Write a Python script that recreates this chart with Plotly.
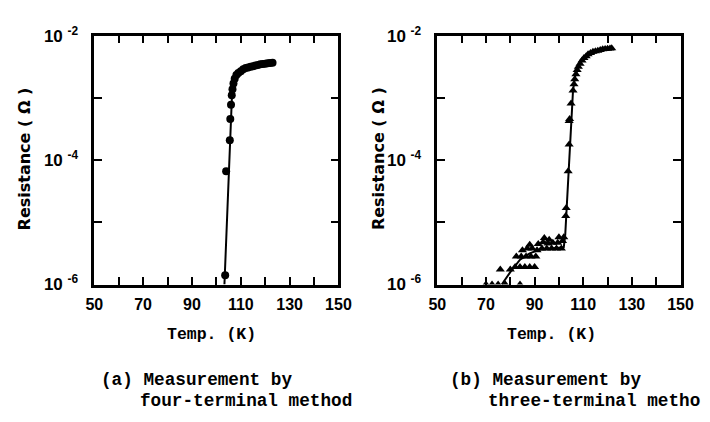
import plotly.graph_objects as go

# ---------------- data ----------------
# (a) four-terminal method: measured points
temp_a = [103.6, 104.0, 105.5, 105.7, 106.0, 106.3, 106.6, 107.0, 107.5, 108.2,
          109.0, 110.0, 111.0, 112.0, 113.0, 114.0, 115.0, 116.0, 117.0, 118.0,
          119.0, 120.0, 121.0, 122.0, 123.0]
res_a = [1.41e-6, 6.61e-5, 2.09e-4, 4.57e-4, 7.76e-4, 1.10e-3, 1.38e-3, 1.70e-3, 2.04e-3, 2.34e-3,
         2.51e-3, 2.69e-3, 2.88e-3, 3.02e-3, 3.09e-3, 3.16e-3, 3.24e-3, 3.31e-3, 3.39e-3, 3.47e-3,
         3.51e-3, 3.55e-3, 3.59e-3, 3.63e-3, 3.67e-3]
# (a) fitted curve
fit_temp_a = [103.3, 104.3, 105.0, 105.6, 106.0, 106.4, 107.2, 108.5, 110.5, 114.0, 118.0, 123.0]
fit_res_a = [1.0e-6, 1.0e-5, 5.0e-5, 2.0e-4, 6.3e-4, 1.12e-3, 1.78e-3, 2.4e-3, 2.75e-3, 3.16e-3, 3.47e-3, 3.67e-3]

# (b) three-terminal method: measured points
temp_b = [70.0, 72.5, 75.0, 78.0, 84.0,
          75.9, 80.0, 82.0, 84.0, 86.0, 88.0, 90.0,
          82.5, 84.5, 86.5, 88.5, 90.5,
          85.0, 87.0, 89.0, 91.0, 93.0, 95.0, 97.0, 99.0, 101.0,
          88.0, 91.5, 93.5, 95.5, 97.5, 99.5, 101.5,
          94.0, 96.0, 100.0, 102.0,
          102.8, 103.0, 103.8, 104.2, 104.2, 104.4, 105.0, 105.8, 106.2,
          106.5, 107.0, 107.5, 108.0, 108.7, 109.5, 110.3, 111.2, 112.0, 113.0,
          114.0, 115.0, 116.0, 117.0, 118.0, 119.0, 120.0, 121.0, 121.7]
res_b = [1.0e-6, 1.0e-6, 1.0e-6, 1.0e-6, 1.0e-6,
         1.74e-6, 1.74e-6, 1.91e-6, 1.91e-6, 1.91e-6, 1.91e-6, 1.91e-6,
         2.82e-6, 2.82e-6, 2.82e-6, 2.82e-6, 2.82e-6,
         3.55e-6, 3.80e-6, 3.80e-6, 3.55e-6, 3.80e-6, 3.80e-6, 3.80e-6, 3.80e-6, 3.80e-6,
         4.37e-6, 4.47e-6, 4.79e-6, 4.57e-6, 4.68e-6, 4.68e-6, 5.01e-6,
         5.62e-6, 5.25e-6, 5.75e-6, 5.75e-6,
         1.26e-5, 1.70e-5, 6.61e-5, 1.78e-4, 4.27e-4, 4.57e-4, 8.13e-4, 1.32e-3, 1.66e-3,
         2.0e-3, 2.40e-3, 2.82e-3, 3.16e-3, 3.55e-3, 3.98e-3, 4.37e-3, 4.68e-3, 5.01e-3, 5.25e-3,
         5.50e-3, 5.62e-3, 5.75e-3, 5.89e-3, 6.03e-3, 6.10e-3, 6.17e-3, 6.24e-3, 6.31e-3]
# (b) fitted curve
fit_temp_b = [76.5, 80.0, 84.0, 88.0, 92.0, 97.0, 102.0, 102.6, 103.3, 104.0, 104.6,
              105.2, 105.8, 106.7, 108.0, 110.0, 113.0, 117.0, 121.7]
fit_res_b = [1.0e-6, 1.58e-6, 2.51e-6, 3.16e-6, 3.63e-6, 3.80e-6, 3.98e-6, 6.31e-6, 2.0e-5, 7.94e-5, 2.51e-4,
             7.08e-4, 1.32e-3, 2.24e-3, 3.16e-3, 4.17e-3, 5.01e-3, 5.75e-3, 6.17e-3]

x_tickvals = [50, 70, 90, 110, 130, 150]
x_ticktext = ["50", "70", "90", "110", "130", "150"]
x_minor_vals = [60, 80, 100, 120, 140]
y_tickvals = [1e-6, 1e-4, 1e-2]
y_ticktext = ["10 <sup>-6</sup>", "10 <sup>-4</sup>", "10 <sup>-2</sup>"]
y_minor_vals = [1e-5, 1e-3]

x_title = "Temp. (K)"
y_title = "Resistance ( Ω )"
caption_a = ["(a) Measurement by", "four-terminal method"]
caption_b = ["(b) Measurement by", "three-terminal metho"]

# ---------------- figure ----------------
W, H = 710, 422
fig = go.Figure()

fig.add_trace(go.Scatter(x=fit_temp_a, y=fit_res_a, mode="lines",
                         line=dict(color="black", width=2), xaxis="x", yaxis="y",
                         showlegend=False))
fig.add_trace(go.Scatter(x=temp_a, y=res_a, mode="markers",
                         marker=dict(symbol="circle", size=8, color="black"),
                         xaxis="x", yaxis="y", showlegend=False))
fig.add_trace(go.Scatter(x=fit_temp_b, y=fit_res_b, mode="lines",
                         line=dict(color="black", width=2), xaxis="x2", yaxis="y2",
                         showlegend=False))
fig.add_trace(go.Scatter(x=temp_b, y=res_b, mode="markers",
                         marker=dict(symbol="triangle-up", size=8, color="black"),
                         xaxis="x2", yaxis="y2", showlegend=False))

def px_x(p):
    return p / W

def px_y(p):
    return 1 - p / H

ydom = [px_y(287.5), px_y(25)]
tickfont_x = dict(family="Liberation Sans", size=16, color="black", weight="bold")
tickfont_y = dict(family="Liberation Sans", size=17, color="black", weight="bold")

minor_style = dict(ticks="inside", ticklen=8, tickwidth=2, tickcolor="black", showgrid=False)
common_x = dict(range=[50, 150], tickmode="array", tickvals=x_tickvals, ticktext=x_ticktext,
                ticks="inside", ticklen=8, tickwidth=2, tickcolor="black",
                minor=dict(tickmode="array", tickvals=x_minor_vals, **minor_style),
                showline=True, linecolor="black", linewidth=2.5, mirror="ticks",
                showgrid=False, zeroline=False, tickfont=tickfont_x, ticklabelstandoff=4)
common_y = dict(type="log", range=[-6, -2], tickmode="array", tickvals=y_tickvals, ticktext=y_ticktext,
                ticks="inside", ticklen=8, tickwidth=2, tickcolor="black",
                minor=dict(tickmode="array", tickvals=y_minor_vals, **minor_style),
                showline=True, linecolor="black", linewidth=2.5, mirror="ticks",
                showgrid=False, zeroline=False, tickfont=tickfont_y, ticklabelstandoff=10)

fig.update_layout(
    width=W, height=H,
    margin=dict(l=0, r=0, t=0, b=0),
    paper_bgcolor="white", plot_bgcolor="white",
    xaxis=dict(domain=[px_x(88), px_x(340)], anchor="y", **common_x),
    yaxis=dict(domain=ydom, anchor="x", **common_y),
    xaxis2=dict(domain=[px_x(442), px_x(693)], anchor="y2", **common_x),
    yaxis2=dict(domain=ydom, anchor="x2", **common_y),
)

ann = []
title_font = dict(family="DejaVu Sans", size=16, color="black", weight="bold")
mono_b = dict(family="Liberation Mono", size=16.5, color="black", weight="bold")
mono = dict(family="Liberation Mono", size=17.7, color="black", weight="bold")
for xc in (16, 382):
    ann.append(dict(x=px_x(xc), y=px_y(155), xref="paper", yref="paper", text=y_title,
                    textangle=-90, showarrow=False, font=title_font,
                    xanchor="center", yanchor="middle"))
for xc in (209, 560):
    ann.append(dict(x=px_x(xc), y=px_y(340), xref="paper", yref="paper", text=x_title,
                    showarrow=False, font=mono_b, xanchor="center", yanchor="middle"))
for (x0, x1, cap) in ((93, 133, caption_a), (453, 492, caption_b)):
    ann.append(dict(x=px_x(x0), y=px_y(388), xref="paper", yref="paper", text=cap[0],
                    showarrow=False, font=mono, xanchor="left", yanchor="middle"))
    ann.append(dict(x=px_x(x1), y=px_y(410), xref="paper", yref="paper", text=cap[1],
                    showarrow=False, font=mono, xanchor="left", yanchor="middle"))
fig.update_layout(annotations=ann)

fig.write_html("out.html", config={"displayModeBar": False},
               post_script="document.body.style.margin='0px';document.body.style.overflow='hidden';")
